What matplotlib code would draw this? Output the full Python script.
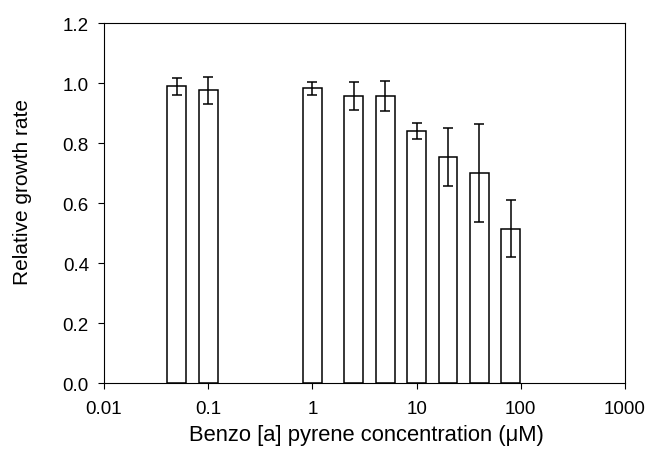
import numpy as np
import matplotlib
matplotlib.use('Agg')
import matplotlib.pyplot as plt

# Benzo[a]pyrene concentrations (uM) and relative growth rate
conc = [0.05, 0.1, 1, 2.5, 5, 10, 20, 40, 80]
rate = [0.99, 0.977, 0.983, 0.957, 0.957, 0.841, 0.754, 0.701, 0.515]
err = [0.028, 0.045, 0.022, 0.046, 0.049, 0.027, 0.096, 0.162, 0.095]

xticks = [0.01, 0.1, 1, 10, 100, 1000]
xticklabels = ['0.01', '0.1', '1', '10', '100', '1000']
yticks = [0.0, 0.2, 0.4, 0.6, 0.8, 1.0, 1.2]


def main():
    plt.rcParams['font.family'] = ['Liberation Sans', 'DejaVu Sans']

    fig = plt.figure(figsize=(6.47, 4.56), dpi=100)
    ax = fig.add_axes([0.1607, 0.157, 0.8053, 0.79])

    c = np.array(conc)
    f = 10 ** 0.09  # bar half-width in log units
    left = c / f
    widths = c * f - left
    ax.bar(left, rate, width=widths, align='edge', color='white',
           edgecolor='black', linewidth=1.1, zorder=2)
    ax.errorbar(c, rate, yerr=err, fmt='none', ecolor='black',
                elinewidth=1.1, capsize=3.8, capthick=1.1, zorder=3)

    ax.set_xscale('log')
    ax.set_xlim(0.01, 1000)
    ax.set_ylim(0, 1.2)
    ax.set_xticks(xticks)
    ax.set_xticklabels(xticklabels)
    ax.xaxis.set_minor_locator(matplotlib.ticker.NullLocator())
    ax.set_yticks(yticks)
    ax.set_yticklabels(['%.1f' % v for v in yticks])

    ax.tick_params(direction='out', length=4.3, width=0.8, labelsize=13.5)
    ax.tick_params(axis='x', pad=8)
    ax.tick_params(axis='y', pad=6.5)
    for s in ax.spines.values():
        s.set_linewidth(0.8)

    fig.text(366 / 647, 1 - 436 / 456, 'Benzo [a] pyrene concentration (\u03bcM)',
             fontsize=15.8, ha='center', va='center')
    fig.text(23 / 647, 1 - 192 / 456, 'Relative growth rate',
             fontsize=15, rotation=90, ha='center', va='center')

    plt.savefig('out.png', dpi=100)


if __name__ == '__main__':
    main()
